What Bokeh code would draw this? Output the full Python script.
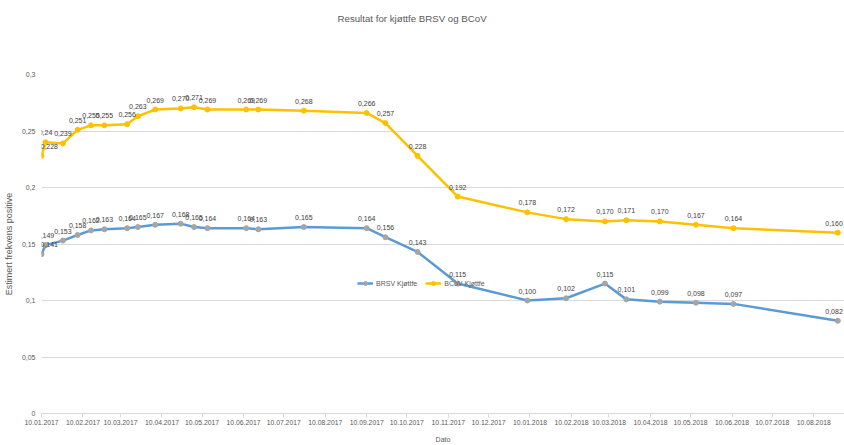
import pandas as pd
from bokeh.plotting import figure
from bokeh.models import (ColumnDataSource, FixedTicker, DatetimeTickFormatter,
                          CustomJSTickFormatter, Legend, LegendItem, Range1d, LabelSet,
                          Title)
from bokeh.embed import file_html
from bokeh.resources import INLINE
from bokeh.core.properties import value

# ---- data ----
dates = ["2017-01-10", "2017-01-13", "2017-01-26", "2017-02-06", "2017-02-16",
         "2017-02-26", "2017-03-15", "2017-03-23", "2017-04-05", "2017-04-24",
         "2017-05-04", "2017-05-14", "2017-06-12", "2017-06-21", "2017-07-25",
         "2017-09-10", "2017-09-24", "2017-10-18", "2017-11-17", "2018-01-08",
         "2018-02-06", "2018-03-07", "2018-03-23", "2018-04-17", "2018-05-14",
         "2018-06-11", "2018-08-28"]
brsv = [0.141, 0.149, 0.153, 0.158, 0.162, 0.163, 0.164, 0.165, 0.167, 0.168,
        0.165, 0.164, 0.164, 0.163, 0.165, 0.164, 0.156, 0.143, 0.115, 0.100,
        0.102, 0.115, 0.101, 0.099, 0.098, 0.097, 0.082]
bcov = [0.228, 0.240, 0.239, 0.251, 0.255, 0.255, 0.256, 0.263, 0.269, 0.270,
        0.271, 0.269, 0.269, 0.269, 0.268, 0.266, 0.257, 0.228, 0.192, 0.178,
        0.172, 0.170, 0.171, 0.170, 0.167, 0.164, 0.160]
brsv_labels = ["0,141", "0,149", "0,153", "0,158", "0,162", "0,163", "0,164", "0,165",
               "0,167", "0,168", "0,165", "0,164", "0,164", "0,163", "0,165", "0,164",
               "0,156", "0,143", "0,115", "0,100", "0,102", "0,115", "0,101", "0,099",
               "0,098", "0,097", "0,082"]
bcov_labels = ["0,228", "0,24", "0,239", "0,251", "0,255", "0,255", "0,256", "0,263",
               "0,269", "0,270", "0,271", "0,269", "0,269", "0,269", "0,268", "0,266",
               "0,257", "0,228", "0,192", "0,178", "0,172", "0,170", "0,171", "0,170",
               "0,167", "0,164", "0,160"]
tick_dates = ["2017-01-10", "2017-02-10", "2017-03-10", "2017-04-10", "2017-05-10",
              "2017-06-10", "2017-07-10", "2017-08-10", "2017-09-10", "2017-10-10",
              "2017-11-10", "2017-12-10", "2018-01-10", "2018-02-10", "2018-03-10",
              "2018-04-10", "2018-05-10", "2018-06-10", "2018-07-10", "2018-08-10"]
y_ticks = [0, 0.05, 0.1, 0.15, 0.2, 0.25, 0.3]

FONT = "Liberation Sans"
GREY_TXT = "#595959"

x = pd.to_datetime(dates)
src = ColumnDataSource(dict(x=x, brsv=brsv, bcov=bcov))


def label_source(sl):
    return ColumnDataSource(dict(x=x[sl], brsv=brsv[sl], bcov=bcov[sl],
                                 brsv_lab=brsv_labels[sl], bcov_lab=bcov_labels[sl]))


first_src = label_source(slice(0, 1))
mid_src = label_source(slice(1, -1))
last_src = label_source(slice(-1, None))

p = figure(width=844, height=445, output_backend="svg", toolbar_location=None,
           x_axis_type="datetime",
           x_range=Range1d(pd.Timestamp("2017-01-10"), pd.Timestamp("2018-09-02")),
           y_range=Range1d(0, 0.3))
p.outline_line_color = None
p.min_border_left = 41
p.min_border_right = 0
p.min_border_top = 0
p.min_border_bottom = 32

# real title outermost, spacer panel next to the frame
p.title.text = "Resultat for kjøttfe BRSV og BCoV"
p.title.align = "left"
p.title.offset = 296
p.title.text_font = FONT
p.title.text_font_size = "9.7px"
p.title.text_font_style = "normal"
p.title.text_color = GREY_TXT
p.title.standoff = 20
spacer = Title(text=" ", text_font_size="9px", standoff=29)
p.add_layout(spacer, "above")

# grid
p.xgrid.grid_line_color = None
p.ygrid.ticker = FixedTicker(ticks=y_ticks)
p.ygrid.grid_line_color = "#D9D9D9"

# y axis
p.yaxis.ticker = FixedTicker(ticks=y_ticks)
p.yaxis.formatter = CustomJSTickFormatter(
    code="return (Math.round(tick*100)/100).toString().replace('.', ',');")
p.yaxis.axis_line_color = None
p.yaxis.major_tick_line_color = None
p.yaxis.minor_tick_line_color = None
p.yaxis.major_tick_out = 0
p.yaxis.major_label_standoff = 6
p.yaxis.major_label_text_font = FONT
p.yaxis.major_label_text_font_size = "7px"
p.yaxis.major_label_text_color = GREY_TXT
p.yaxis.axis_label = "Estimert frekvens positive"
p.yaxis.axis_label_text_font = FONT
p.yaxis.axis_label_text_font_size = "9px"
p.yaxis.axis_label_text_font_style = "normal"
p.yaxis.axis_label_text_color = GREY_TXT
p.yaxis.axis_label_standoff = 5

# x axis
p.xaxis.ticker = FixedTicker(ticks=[pd.Timestamp(d).value / 1e6 for d in tick_dates])
fmt = "%d.%m.%Y"
p.xaxis.formatter = DatetimeTickFormatter(days=fmt, months=fmt, years=fmt, hours=fmt,
                                          minutes=fmt, hourmin=fmt, seconds=fmt,
                                          minsec=fmt, milliseconds=fmt,
                                          microseconds=fmt)
p.xaxis.axis_line_color = "#D9D9D9"
p.xaxis.major_tick_line_color = "#D9D9D9"
p.xaxis.major_tick_out = 4
p.xaxis.major_tick_in = 0
p.xaxis.minor_tick_line_color = None
p.xaxis.major_label_standoff = 2
p.xaxis.major_label_text_font = FONT
p.xaxis.major_label_text_font_size = "6.8px"
p.xaxis.major_label_text_color = GREY_TXT
p.xaxis.axis_label = "Dato"
p.xaxis.axis_label_text_font = FONT
p.xaxis.axis_label_text_font_size = "7px"
p.xaxis.axis_label_text_font_style = "normal"
p.xaxis.axis_label_text_color = GREY_TXT
p.xaxis.axis_label_standoff = 8

BLUE = "#5B9BD5"
YELLOW = "#FFC000"
l1 = p.line("x", "brsv", source=src, line_color=BLUE, line_width=2.5)
s1 = p.scatter("x", "brsv", source=src, size=5, marker="circle",
               fill_color="#A5A5A5", line_color="#A5A5A5")
l2 = p.line("x", "bcov", source=src, line_color=YELLOW, line_width=2.5)
s2 = p.scatter("x", "bcov", source=src, size=5, marker="circle",
               fill_color=YELLOW, line_color=YELLOW)

for col, lab in (("brsv", "brsv_lab"), ("bcov", "bcov_lab")):
    for s, align, dx in ((first_src, "left", -1), (mid_src, "center", 0),
                         (last_src, "right", 5)):
        p.add_layout(LabelSet(x="x", y=col, text=lab, source=s, x_offset=dx,
                              y_offset=7, text_align=align, text_baseline="bottom",
                              text_font=value(FONT), text_font_size="7px",
                              text_color="#404040"))

legend = Legend(items=[LegendItem(label="BRSV Kjøttfe", renderers=[l1, s1]),
                       LegendItem(label="BCoV Kjøttfe", renderers=[l2, s2])],
                orientation="horizontal", location=(316, 125),
                border_line_alpha=0, background_fill_alpha=0,
                label_text_font=FONT, label_text_font_size="7px",
                label_text_color=GREY_TXT, glyph_width=16, glyph_height=10,
                label_standoff=3, spacing=8, padding=0, margin=0)
p.add_layout(legend)

open("out.html", "w").write(file_html(p, INLINE))
